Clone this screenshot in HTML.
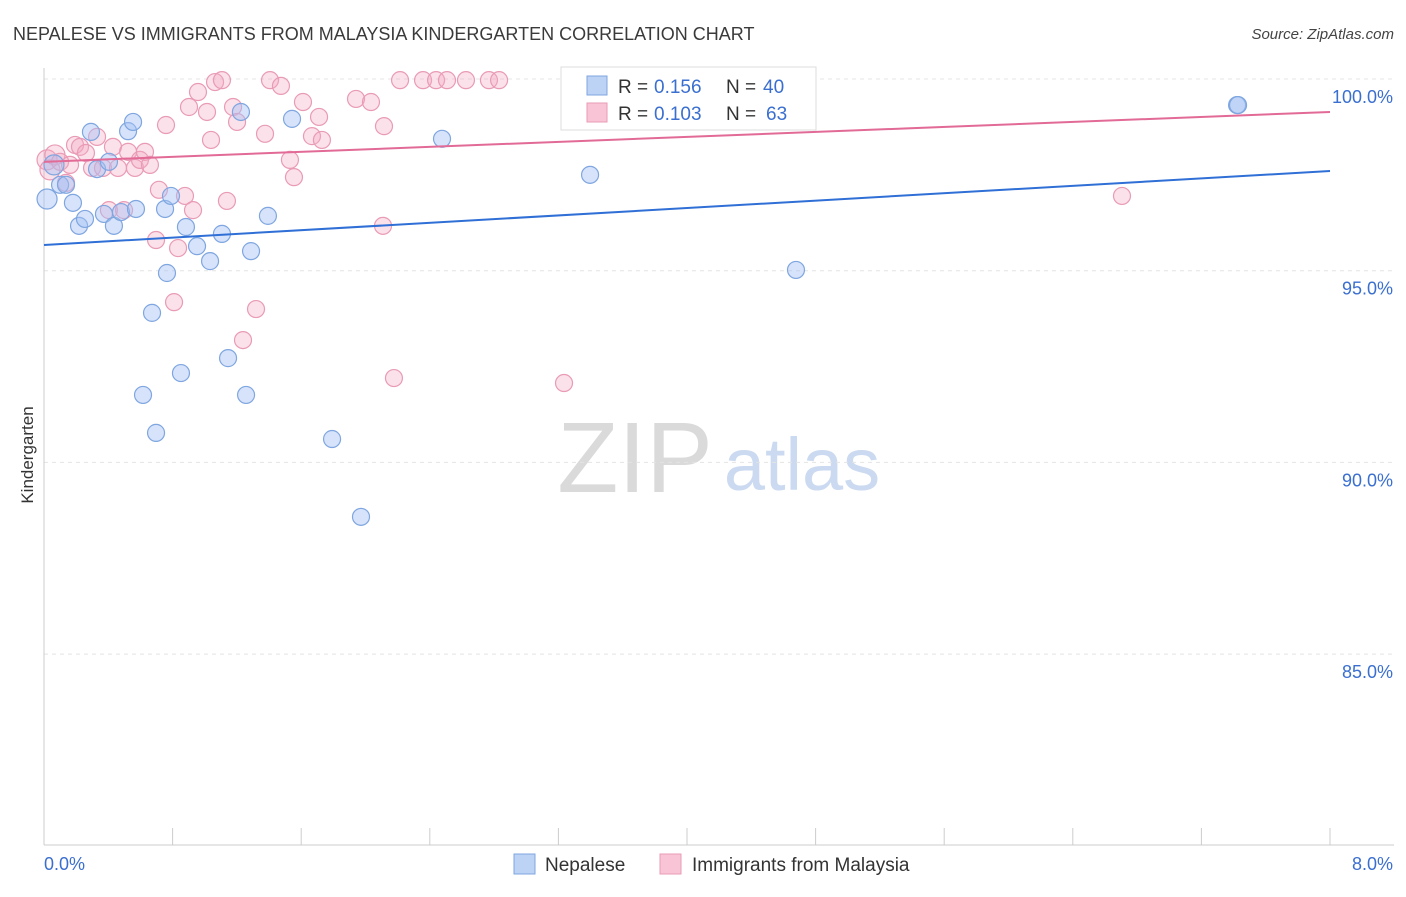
<!DOCTYPE html>
<html><head><meta charset="utf-8"><style>
body{margin:0;background:#fff;font-family:"Liberation Sans",sans-serif;}
svg text{font-family:"Liberation Sans",sans-serif;}
</style></head><body>
<svg width="1406" height="892" viewBox="0 0 1406 892" xmlns="http://www.w3.org/2000/svg">
<text x="13" y="40" font-size="18" fill="#3a3a3a">NEPALESE VS IMMIGRANTS FROM MALAYSIA KINDERGARTEN CORRELATION CHART</text>
<text x="1394" y="39" font-size="15" fill="#444" text-anchor="end" font-style="italic">Source: ZipAtlas.com</text>
<g>
<text x="635" y="492" font-size="100" fill="#dadada" text-anchor="middle" font-family="Liberation Serif">ZIP</text>
<text x="802" y="490" font-size="74" fill="#cbdaf0" text-anchor="middle">atlas</text>
</g>
<g id="grid"></g>
<g id="axes"></g>
<g id="marks"></g>
<text transform="translate(33,455) rotate(-90)" font-size="17" fill="#333" text-anchor="middle">Kindergarten</text>
<g>
<rect x="561" y="67" width="255" height="63" fill="#fff" stroke="#ddd"/>
<rect x="587" y="76" width="20" height="19" fill="#bcd3f5" stroke="#7fa6e0"/>
<rect x="587" y="103" width="20" height="19" fill="#f9c4d5" stroke="#e99bb6"/>
<text x="618" y="93" font-size="19" fill="#333">R =</text>
<text x="654" y="93" font-size="19" fill="#3a6fd0">0.156</text>
<text x="726" y="93" font-size="19" fill="#333">N =</text>
<text x="763" y="93" font-size="19" fill="#3a6fd0">40</text>
<text x="618" y="120" font-size="19" fill="#333">R =</text>
<text x="654" y="120" font-size="19" fill="#3a6fd0">0.103</text>
<text x="726" y="120" font-size="19" fill="#333">N =</text>
<text x="766" y="120" font-size="19" fill="#3a6fd0">63</text>
</g>
<g>
<rect x="514" y="854" width="21" height="20" fill="#bcd3f5" stroke="#7fa6e0"/>
<text x="545" y="871" font-size="19" fill="#333">Nepalese</text>
<rect x="660" y="854" width="21" height="20" fill="#f9c4d5" stroke="#e99bb6"/>
<text x="692" y="871" font-size="19" fill="#333">Immigrants from Malaysia</text>
</g>
</svg>
<script>
const blueX=[0.019,0.062,0.100,0.137,0.180,0.218,0.255,0.292,0.330,0.373,0.404,0.435,0.479,0.523,0.554,0.572,0.672,0.697,0.616,0.753,0.765,0.790,0.852,0.883,0.952,1.033,1.107,1.145,1.225,1.257,1.288,1.393,1.543,1.792,1.972,2.476,3.397,4.678,7.422,7.428];
const blueY=[96.87,97.76,97.24,97.24,96.77,96.17,96.35,98.62,97.65,96.48,97.84,96.17,96.53,98.64,98.88,96.61,93.90,90.77,91.76,96.61,94.94,96.95,92.33,96.14,95.64,95.25,95.96,92.72,99.14,91.76,95.51,96.43,98.96,90.61,88.58,98.44,97.50,95.02,99.32,99.32];
const pinkX=[0.019,0.037,0.068,0.100,0.137,0.162,0.193,0.224,0.261,0.299,0.330,0.367,0.404,0.429,0.460,0.498,0.523,0.566,0.597,0.628,0.659,0.697,0.715,0.759,0.809,0.834,0.877,0.902,0.927,0.958,1.014,1.039,1.064,1.107,1.138,1.176,1.201,1.238,1.319,1.375,1.406,1.474,1.530,1.555,1.611,1.667,1.711,1.729,1.941,2.034,2.109,2.115,2.177,2.215,2.358,2.439,2.507,2.625,2.768,2.831,3.235,3.403,6.706];
const pinkY=[97.89,97.63,98.02,97.84,97.29,97.76,98.28,98.23,98.07,97.68,98.49,97.68,96.58,98.23,97.68,96.58,98.10,97.68,97.89,98.10,97.76,95.80,97.11,98.80,94.18,95.59,96.95,99.27,96.58,99.66,99.14,98.41,99.92,99.97,96.82,99.27,98.88,93.19,94.00,98.57,99.97,99.82,97.89,97.44,99.40,98.51,99.01,98.41,99.48,99.40,96.17,98.77,92.20,99.97,99.97,99.97,99.97,99.97,99.97,99.97,92.07,99.97,96.95];
const blueTrend=[95.67,97.60];
const pinkTrend=[97.84,99.14];
const yTicks=[100,95,90,85];
const yTickLabels=["100.0%","95.0%","90.0%","85.0%"];
const xTickLabels=["0.0%","8.0%"];
const NS="http://www.w3.org/2000/svg";
const X0=44,X1=1330,XMAX=8;
const sx=v=>X0+(X1-X0)*v/XMAX;
const sy=v=>79+(100-v)*38.34;
function mk(tag,attrs,parent){const e=document.createElementNS(NS,tag);for(const k in attrs)e.setAttribute(k,attrs[k]);parent.appendChild(e);return e;}
const grid=document.getElementById('grid'),axes=document.getElementById('axes'),marks=document.getElementById('marks');
yTicks.forEach((t,i)=>{
 const l=mk('line',{x1:44,x2:1394,y1:sy(t),y2:sy(t),stroke:'#e4e4e4','stroke-dasharray':'4,4'},grid);
 
 
 const tx=mk('text',{x:1393,y:sy(t)+24,'font-size':18,fill:'#3a6fd0','text-anchor':'end'},axes);
 tx.textContent=yTickLabels[i];
 
 
});
const ax=mk('line',{x1:44,x2:44,y1:68,y2:845,stroke:'#ccc'},axes);


const bx=mk('line',{x1:44,x2:1394,y1:845,y2:845,stroke:'#ccc'},axes);


for(let i=0;i<=10;i++){
 const t=mk('line',{x1:sx(i*0.8),x2:sx(i*0.8),y1:828,y2:845,stroke:'#ccc'},axes);
 
 
}
[[0,'start',44],[8,'end',1393]].forEach((d,i)=>{
 const t=mk('text',{x:d[2],y:870,'font-size':18,fill:'#3a6fd0','text-anchor':d[1]},axes);
 t.textContent=xTickLabels[i];
 
 
});
function pts(xs,ys,fill,stroke,name){
 xs.forEach((x,i)=>{
  const c=mk('circle',{cx:sx(x),cy:sy(ys[i]),r:x<0.1?10:8.5,fill:fill,stroke:stroke,'stroke-width':1.2},marks);
  
  
 });
}
pts(pinkX,pinkY,'rgba(244,170,195,0.35)','#e99bb6','malaysia-point');
pts(blueX,blueY,'rgba(164,194,244,0.45)','#7fa6e0','nepalese-point');
const bl=mk('line',{x1:sx(0),y1:sy(blueTrend[0]),x2:sx(8),y2:sy(blueTrend[1]),stroke:'#2f6fd6','stroke-width':2},marks);


const pl=mk('line',{x1:sx(0),y1:sy(pinkTrend[0]),x2:sx(8),y2:sy(pinkTrend[1]),stroke:'#e26a96','stroke-width':2},marks);


</script>
</body></html>
